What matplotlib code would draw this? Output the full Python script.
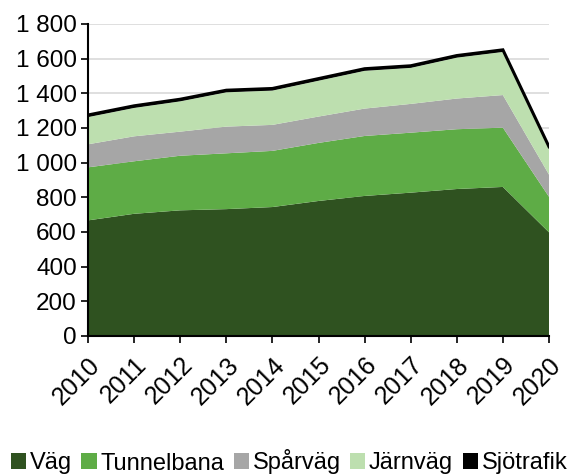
import matplotlib
matplotlib.use("Agg")
import matplotlib.pyplot as plt
from matplotlib.patches import Patch
from matplotlib.ticker import FuncFormatter

years = [2010, 2011, 2012, 2013, 2014, 2015, 2016, 2017, 2018, 2019, 2020]
vag = [667, 705, 725, 732, 744, 779, 808, 827, 848, 860, 598]
tunnelbana = [306, 303, 315, 322, 324, 335, 346, 346, 345, 342, 205]
sparvag = [133, 144, 139, 154, 150, 152, 158, 166, 177, 188, 128]
jarnvag = [157, 164, 175, 198, 198, 207, 218, 208, 236, 249, 152]
sjotrafik = [12, 12, 12, 12, 12, 12, 12, 12, 12, 12, 9]

names = ["Väg", "Tunnelbana", "Spårväg", "Järnväg", "Sjötrafik"]
colors = ["#2F5220", "#5EAC46", "#A6A6A6", "#BDDFAF", "#000000"]

plt.rcParams["font.family"] = ["Liberation Sans", "DejaVu Sans"]

fig = plt.figure(figsize=(5.69, 4.75), dpi=100)
ax = fig.add_axes([88 / 569, 1 - 336 / 475, (549 - 88) / 569, (336 - 24) / 475])

series = [vag, tunnelbana, sparvag, jarnvag, sjotrafik]
ax.stackplot(years, *series, colors=colors, linewidth=0, zorder=2)
top = [sum(v) for v in zip(*series)]
ax.plot(years, top, color="black", lw=2.2, zorder=3, solid_joinstyle="miter")

ax.set_xlim(2010, 2020)
ax.set_ylim(0, 1800)
ax.set_yticks(range(0, 1801, 200))
ax.yaxis.set_major_formatter(FuncFormatter(lambda v, p: f"{int(v):,}".replace(",", " ")))
ax.set_xticks(years)
ax.set_xticklabels([str(y) for y in years], rotation=45, ha="right", va="top",
                   rotation_mode="anchor")
ax.grid(axis="y", color="#D9D9D9", lw=1.2, zorder=0)
ax.set_axisbelow(True)
for s in ["top", "right"]:
    ax.spines[s].set_visible(False)
for s in ["left", "bottom"]:
    ax.spines[s].set_linewidth(1.5)
    ax.spines[s].set_zorder(4)
ax.tick_params(axis="both", direction="out", length=5, width=1.2, colors="black",
               labelsize=17.5, pad=3)
ax.tick_params(axis="x", pad=7, labelsize=18)

handles = [Patch(facecolor=c, edgecolor="none") for c in colors]
fig.legend(handles, names, loc="center", bbox_to_anchor=(0.508, 1 - 462 / 475), ncol=5,
           frameon=False, handlelength=0.65, handleheight=0.65, handletextpad=0.15,
           columnspacing=0.4, borderaxespad=0, fontsize=17)

fig.savefig("out.png", dpi=100)
